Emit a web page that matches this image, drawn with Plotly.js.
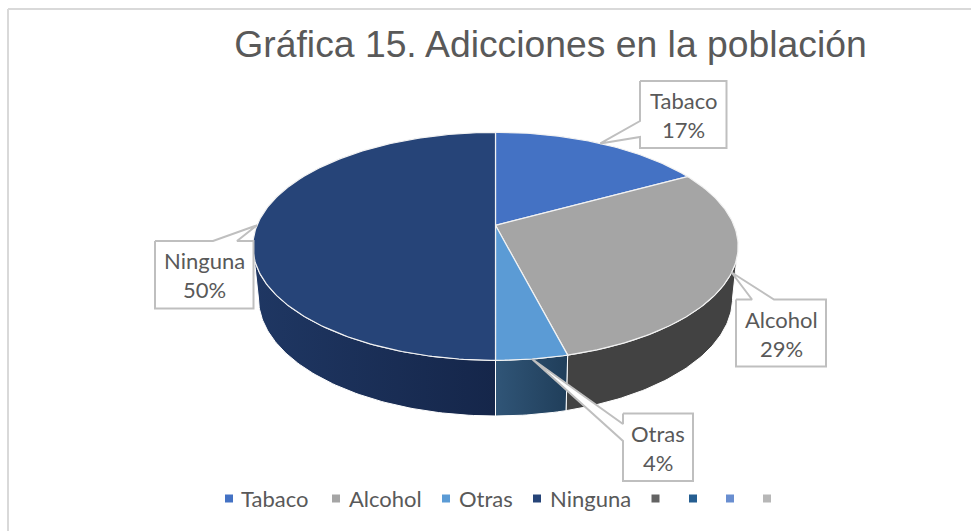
<!DOCTYPE html>
<html>
<head>
<meta charset="utf-8">
<script src="https://cdn.plot.ly/plotly-3.0.1.min.js"></script>
<style>html,body{margin:0;padding:0;background:#fff;overflow:hidden}#chart{width:971px;height:531px}</style>
</head>
<body>
<div id="chart"></div>
<script>
// ---- data ----
const chartTitle = 'Gráfica 15. Adicciones en la población';
const categories = ['Tabaco', 'Alcohol', 'Otras', 'Ninguna'];
const values = [17, 29, 4, 50];
const legendNames = ['Tabaco', 'Alcohol', 'Otras', 'Ninguna', '', '', '', ''];

// ---- colours ----
const topColors = ['#4472C4', '#A5A5A5', '#5B9BD5', '#264478'];
const wallStart = ['#2F5597', '#424242', '#305577', '#1F3763'];
const wallStop = ['#2F5597', '#424242', '#203E5A', '#15264A'];
const legendColors = ['#4472C4', '#A5A5A5', '#5B9BD5', '#264478', '#636363', '#255E91', '#698ED0', '#B7B7B7'];
const textColor = '#595959';
const boxColor = '#BFBFBF';
const labelFont = {family: 'Lato, Carlito, sans-serif', size: 22, color: textColor};

// ---- layout geometry of the tilted disc (pixel-like axis units) ----
const cx = 495.5;
const topDisc = {y0: 246.3, R: 238.5, ry: 114};
const lowDisc = {y0: 298, R: 233, ry: 118};
const persp = 0.184;
// fractions of the turn where the disc outline is widest (cos a = -persp)
const rightEdge = Math.acos(-persp) / (2 * Math.PI);
const leftEdge = 1 - rightEdge;

function project(frac, disc) {
  const a = frac * 2 * Math.PI;
  const u = Math.sin(a), v = Math.cos(a);
  const d = 1 + persp * v;
  return [cx + disc.R * u / d, disc.y0 - disc.ry * (v + persp) / d];
}
function arc(f0, f1, disc) {
  const n = Math.max(2, Math.ceil((f1 - f0) * 400));
  const pts = [];
  for (let i = 0; i <= n; i++) pts.push(project(f0 + (f1 - f0) * i / n, disc));
  return pts;
}

const total = values.reduce((s, v) => s + v, 0);
const starts = [];
values.reduce((s, v, i) => { starts[i] = s; return s + v; }, 0);

const traces = [];
function poly(pts, extra) {
  const xs = pts.map(p => p[0]), ys = pts.map(p => p[1]);
  xs.push(xs[0]); ys.push(ys[0]);
  traces.push(Object.assign({type: 'scatter', mode: 'lines', x: xs, y: ys, fill: 'toself',
    hoverinfo: 'skip', showlegend: false}, extra));
}

// side walls (only the part of each slice that faces the viewer)
categories.forEach((c, i) => {
  const f0 = Math.max(starts[i] / total, rightEdge);
  const f1 = Math.min((starts[i] + values[i]) / total, leftEdge);
  if (f1 <= f0) return;
  const pts = arc(f0, f1, topDisc).concat(arc(f0, f1, lowDisc).reverse());
  const xs = pts.map(p => p[0]);
  poly(pts, {
    name: c + ' (lado)',
    line: {color: '#FFFFFF', width: 1},
    fillcolor: wallStart[i],
    fillgradient: {type: 'horizontal', start: Math.min(...xs), stop: Math.max(...xs),
      colorscale: [[0, wallStart[i]], [1, wallStop[i]]]}
  });
});
// top faces
categories.forEach((c, i) => {
  const f0 = starts[i] / total, f1 = (starts[i] + values[i]) / total;
  const apex = project(0.25, {y0: topDisc.y0, R: 0, ry: topDisc.ry});
  poly([apex].concat(arc(f0, f1, topDisc)), {
    name: c, line: {color: '#F2F2F2', width: 1.2}, fillcolor: topColors[i]
  });
});

// callouts: box [x0,y0,x1,y1], side the pointer leaves from, pointer base along that side
const callouts = [
  {box: [640, 81, 726.5, 148], side: 'left', base: [121, 137]},
  {box: [736, 299.5, 826, 366.5], side: 'top', base: [752, 774]},
  {box: [623, 413.5, 693, 481], side: 'left', base: [424, 441]},
  {box: [155, 241, 253.5, 308.5], side: 'top', base: [213, 237]}
];
const calloutLineGap = 14.5;
const annotations = [];
function addText(x, y, text, xanchor) {
  annotations.push({x, y, xref: 'x', yref: 'y', showarrow: false, xanchor, yanchor: 'middle',
    text, font: labelFont});
}
categories.forEach((c, i) => {
  const o = callouts[i];
  const [x0, y0, x1, y1] = o.box;
  const tip = project((starts[i] + values[i] / 2) / total, topDisc);
  const pts = o.side === 'left'
    ? [[x0, y0], [x1, y0], [x1, y1], [x0, y1], [x0, o.base[1]], tip, [x0, o.base[0]]]
    : [[x0, y0], [o.base[0], y0], tip, [o.base[1], y0], [x1, y0], [x1, y1], [x0, y1]];
  poly(pts, {name: c + ' etiqueta', line: {color: boxColor, width: 2}, fillcolor: '#FFFFFF'});
  const xm = (x0 + x1) / 2, ym = (y0 + y1) / 2 + 0.5;
  addText(xm, ym - calloutLineGap, c, 'center');
  addText(xm, ym + calloutLineGap, Math.round(values[i] / total * 100) + '%', 'center');
});

// legend row
const legendSwatchX = [229, 336, 446, 537, 655.5, 693, 730, 767];
const legendRowY = 498;
traces.push({
  type: 'scatter', mode: 'markers', x: legendSwatchX, y: legendSwatchX.map(() => legendRowY + 0.5),
  marker: {symbol: 'square', size: 8, color: legendColors, line: {width: 0}},
  text: legendNames, hoverinfo: 'skip', showlegend: false
});
const legendTextX = [239, 347, 457, 548];
legendNames.forEach((n, i) => {
  if (n) addText(legendTextX[i], legendRowY, n, 'left');
});

const layout = {
  width: 971, height: 531,
  margin: {l: 0, r: 0, t: 0, b: 0},
  paper_bgcolor: '#FFFFFF', plot_bgcolor: '#FFFFFF',
  showlegend: false,
  title: {text: chartTitle, x: 550.5 / 971, xanchor: 'center', xref: 'paper',
    y: 1 - 44 / 531, yanchor: 'middle', yref: 'paper',
    font: {family: '"Liberation Sans", Arial, sans-serif', size: 37.3, color: textColor}},
  xaxis: {range: [0, 971], visible: false, fixedrange: true},
  yaxis: {range: [531, 0], visible: false, fixedrange: true},
  annotations: annotations,
  shapes: [
    {type: 'line', xref: 'x', yref: 'y', x0: 8, x1: 8, y0: 9, y1: 531, line: {color: '#D9D9D9', width: 2}},
    {type: 'line', xref: 'x', yref: 'y', x0: 8, x1: 971, y0: 9, y1: 9, line: {color: '#D9D9D9', width: 2}}
  ]
};
Plotly.newPlot('chart', traces, layout, {displayModeBar: false, staticPlot: true});
</script>
</body>
</html>
